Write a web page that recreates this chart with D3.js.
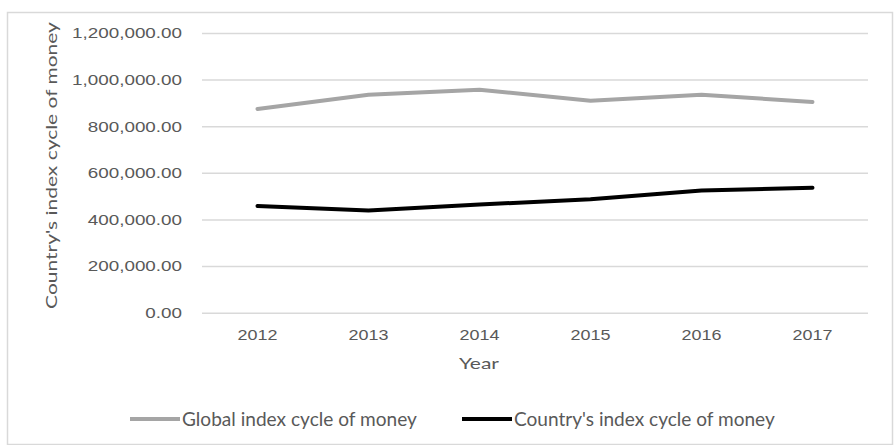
<!DOCTYPE html>
<html>
<head>
<meta charset="utf-8">
<script src="https://cdn.jsdelivr.net/npm/d3@7"></script>
<style>
    body { margin: 0; background: #fff; }
    svg { display: block; font-family: Lato, "Open Sans", sans-serif; }
</style>
</head>
<body>
<svg id="chart" width="894" height="445"></svg>
<script>
// values
const years = ["2012", "2013", "2014", "2015", "2016", "2017"];
const globalIndex = [874000, 935000, 957000, 909000, 935000, 904000];
const countryIndex = [458000, 438000, 464000, 487000, 524000, 536000];
const yTicks = [0, 200000, 400000, 600000, 800000, 1000000, 1200000];
const seriesNames = ["Global index cycle of money", "Country's index cycle of money"];
const seriesColours = ["#a5a5a5", "#000000"];

// horizontal scale so that the widest text of a selection spans `width` px
const widthScale = (sel, width) => {
    const widest = d3.max(sel.nodes(), n => n.getComputedTextLength());
    return width / widest;
};

const renderChart = (selector) => {
    const svg = d3.select(selector);
    const textColour = "#595959";
    const gridColour = "#d9d9d9";

    const plot = { left: 202, right: 868, top: 33, bottom: 312.7 };

    // chart border
    svg.append("rect")
        .attr("x", 7.5).attr("y", 12.5)
        .attr("width", 885).attr("height", 432)
        .attr("fill", "#fff")
        .attr("stroke", gridColour)
        .attr("stroke-width", 1.5);

    const x = d3.scaleBand().domain(years).range([plot.left, plot.right]);
    const y = d3.scaleLinear().domain([0, 1200000]).range([plot.bottom, plot.top]);
    const cx = d => x(d) + x.bandwidth() / 2;

    // y axis + gridlines
    const yAxis = svg.append("g")
        .attr("transform", `translate(${plot.left},0)`)
        .call(d3.axisLeft(y)
            .tickValues(yTicks)
            .tickSize(-(plot.right - plot.left))
            .tickPadding(20)
            .tickFormat(d3.format(",.2f")));
    yAxis.select(".domain").remove();
    yAxis.selectAll(".tick line").attr("stroke", gridColour).attr("stroke-width", 1.5);
    const yText = yAxis.selectAll(".tick text")
        .attr("fill", textColour)
        .style("font-size", "15px");
    const ys = widthScale(yText, 110);
    yText.attr("x", -20 / ys).attr("transform", `scale(${ys},1)`);

    // x axis
    const xAxis = svg.append("g")
        .attr("transform", `translate(0,${plot.bottom})`)
        .call(d3.axisBottom(x).tickSize(0).tickPadding(17));
    xAxis.select(".domain").remove();
    const xText = xAxis.selectAll(".tick text")
        .attr("fill", textColour)
        .style("font-size", "15px");
    xText.attr("transform", `scale(${widthScale(xText, 40)},1)`);

    // lines
    const line = d3.line()
        .x((d, i) => cx(years[i]))
        .y(d => y(d));

    [globalIndex, countryIndex].forEach((values, i) => {
        svg.append("path")
            .datum(values)
            .attr("d", line)
            .attr("fill", "none")
            .attr("stroke", seriesColours[i])
            .attr("stroke-width", 4)
            .attr("stroke-linejoin", "round")
            .attr("stroke-linecap", "round");
    });

    // axis titles
    const yTitle = svg.append("text")
        .attr("text-anchor", "middle")
        .attr("fill", textColour)
        .style("font-size", "15.5px")
        .text("Country's index cycle of money");
    yTitle.attr("transform", `translate(57,165.5) rotate(-90) scale(${widthScale(yTitle, 287)},1)`);

    const xTitle = svg.append("text")
        .attr("text-anchor", "middle")
        .attr("fill", textColour)
        .style("font-size", "15.5px")
        .text("Year");
    xTitle.attr("transform", `translate(479,369) scale(${widthScale(xTitle, 40)},1)`);

    // legend
    const legendX = [130, 462];
    const legendWidth = [235, 261];
    const legend = svg.selectAll(".legend")
        .data(seriesNames)
        .enter().append("g")
        .attr("class", "legend")
        .attr("transform", (d, i) => `translate(${legendX[i]},419)`);
    legend.append("line")
        .attr("x1", 0).attr("x2", 50)
        .attr("stroke", (d, i) => seriesColours[i])
        .attr("stroke-width", 4);
    legend.append("text")
        .attr("dominant-baseline", "central")
        .attr("fill", textColour)
        .style("font-size", "19px")
        .text(d => d)
        .attr("transform", function(d, i) {
            return `translate(52,0) scale(${legendWidth[i] / this.getComputedTextLength()},1)`;
        });
};

document.addEventListener('DOMContentLoaded', () => {
    document.fonts.ready.then(() => renderChart("#chart"));
});
</script>
</body>
</html>
